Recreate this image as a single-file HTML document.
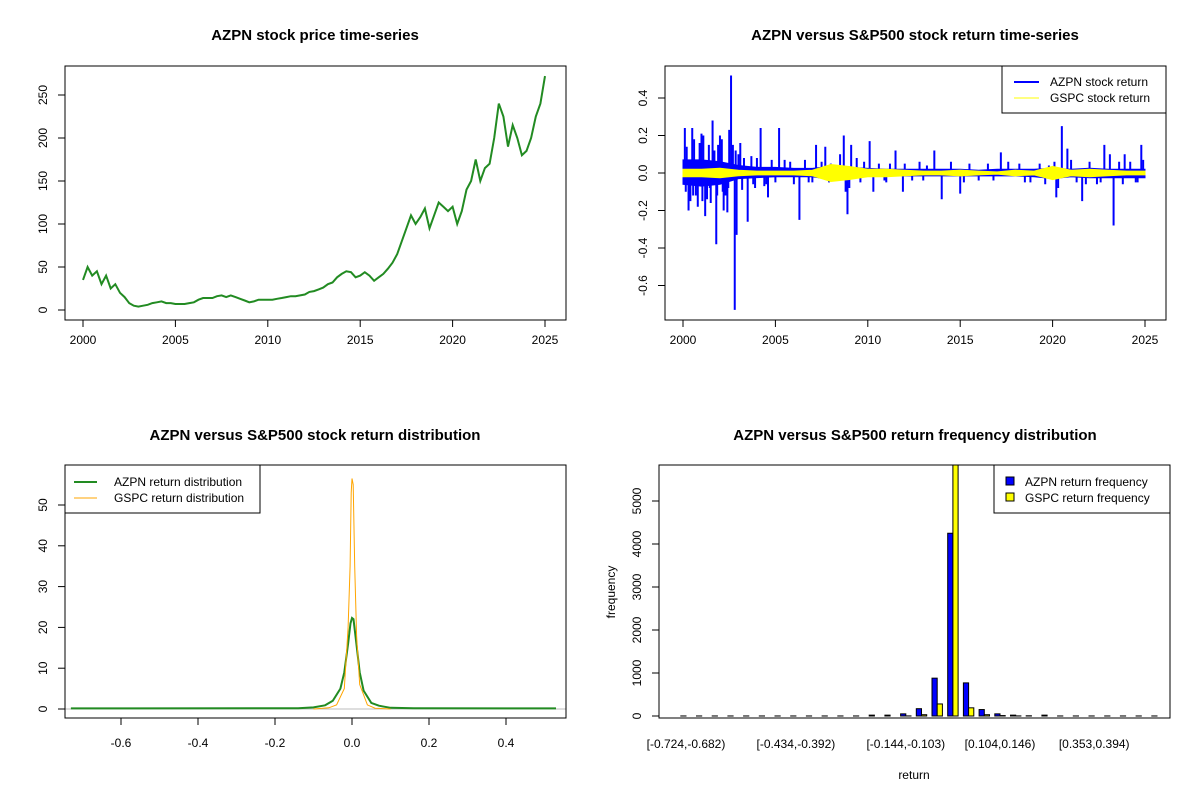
<!DOCTYPE html>
<html><head><meta charset="utf-8"><style>
html,body{margin:0;padding:0;background:#fff;}
svg text{font-family:"Liberation Sans",Arial,sans-serif;}
</style></head><body>
<svg id="c" width="1200" height="800" xmlns="http://www.w3.org/2000/svg"></svg>
<script>
// ---------- data ----------
const priceYears0 = 2000;
const priceQuarterly = [35,50,40,45, 30,40,25,30, 20,15,8,5, 4,5,6,8, 9,10,8,8, 7,7,7,8, 9,12,14,14, 14,16,17,15, 17,15,13,11, 9,10,12,12, 12,12,13,14, 15,16,16,17, 18,21,22,24, 26,30,32,38, 42,45,44,38, 40,44,40,34, 38,42,48,55, 65,80,95,110, 100,108,118,95, 110,125,120,115, 120,100,115,140, 150,175,150,165, 170,200,240,225, 190,215,200,180, 185,200,225,240, 272];
const priceYTicks = [0,50,100,150,200,250];
const yearTicks = [2000,2005,2010,2015,2020,2025];
const retYears = [2000,2001,2002,2003,2004,2005,2006,2007,2008,2009,2010,2011,2012,2013,2014,2015,2016,2017,2018,2019,2020,2021,2022,2023,2024,2025];
const azpnCoreHi = [0.07,0.07,0.06,0.04,0.03,0.03,0.025,0.025,0.035,0.03,0.025,0.02,0.02,0.02,0.02,0.02,0.015,0.02,0.02,0.02,0.025,0.02,0.025,0.02,0.02,0.02];
const azpnCoreLo = [-0.06,-0.07,-0.06,-0.03,-0.025,-0.02,-0.02,-0.02,-0.035,-0.03,-0.015,-0.015,-0.015,-0.015,-0.015,-0.015,-0.015,-0.015,-0.015,-0.02,-0.03,-0.02,-0.025,-0.025,-0.025,-0.025];
const gspcCore = [0.02,0.02,0.025,0.015,0.01,0.01,0.01,0.015,0.045,0.035,0.02,0.02,0.015,0.01,0.01,0.015,0.01,0.006,0.015,0.01,0.035,0.015,0.02,0.015,0.01,0.01];
const spikeYears = [2000.1,2000.3,2000.5,2000.8,2001.0,2001.2,2001.4,2001.6,2001.8,2002.0,2002.2,2002.4,2002.5,2002.6,2002.8,2002.9,2003.1,2003.5,2004.2,2004.6,2005.2,2006.3,2007.2,2007.7,2008.7,2008.9,2009.1,2010.1,2010.3,2011.5,2011.9,2013.6,2014.0,2015.0,2017.2,2020.2,2020.5,2020.8,2021.6,2022.8,2023.1,2023.3,2023.9,2024.8,
 2000.2,2000.4,2000.6,2000.7,2000.9,2001.1,2001.3,2001.5,2001.7,2001.9,2002.1,2002.3,2002.7,2003.0,2003.3,2003.7,2003.9,2004.0,2004.4,2004.8,2005.5,2005.8,2006.0,2006.6,2007.0,2007.5,2008.0,2008.5,2008.8,2009.4,2009.8,2010.6,2010.9,2011.2,2012.0,2012.4,2012.8,2013.2,2014.5,2015.5,2016.0,2016.5,2017.6,2018.2,2018.8,2019.3,2019.8,2020.1,2020.3,2021.0,2021.3,2022.0,2022.4,2023.6,2024.2,2024.5,2024.9,
 2000.15,2000.55,2001.05,2001.45,2001.85,2002.15,2002.45,2002.85,2003.2,2003.8,2004.5,2005.0,2006.8,2007.9,2009.0,2009.6,2011.0,2013.0,2015.2,2016.8,2018.5,2019.6,2021.8,2022.6,2023.8,2024.6];
const spikeValues = [0.24,-0.20,0.24,-0.18,0.21,-0.23,0.15,0.28,-0.38,0.20,-0.20,-0.21,0.23,0.52,-0.73,-0.33,0.16,-0.26,0.24,-0.13,0.24,-0.25,0.15,0.14,0.20,-0.22,0.15,0.17,-0.10,0.12,-0.10,0.12,-0.14,-0.11,0.11,-0.13,0.25,0.13,-0.15,0.15,0.10,-0.28,0.10,0.15,
 0.14,-0.15,0.18,-0.12,0.16,0.20,-0.14,-0.16,0.12,0.15,0.18,-0.12,0.15,0.10,0.08,0.09,-0.08,0.08,-0.07,0.07,0.07,0.06,-0.06,0.07,-0.05,0.06,0.05,0.10,-0.10,0.08,0.06,0.05,-0.04,0.05,0.05,-0.04,0.06,0.04,0.06,0.05,-0.04,0.05,0.06,0.05,-0.05,0.05,0.04,0.06,-0.08,0.07,-0.05,0.06,-0.06,0.06,0.06,-0.05,0.07,
 -0.10,-0.12,-0.15,-0.08,-0.12,-0.10,-0.08,0.12,-0.09,-0.06,-0.06,-0.05,-0.05,-0.05,-0.08,-0.05,-0.05,-0.04,-0.05,-0.04,-0.05,-0.06,-0.06,-0.05,-0.06,-0.05];
const densX = [-0.73,-0.14,-0.10,-0.07,-0.05,-0.03,-0.02,-0.01,-0.004,0,0.004,0.01,0.02,0.03,0.05,0.07,0.10,0.16,0.53];
const azpnDens = [0.15,0.2,0.4,0.9,2,5,9,16,21,22.3,22,17,9,4.5,1.5,0.8,0.3,0.2,0.15];
const gspcX = [-0.10,-0.06,-0.04,-0.02,-0.01,-0.005,-0.002,0,0.003,0.007,0.012,0.02,0.04,0.06,0.10];
const gspcDens = [0,0.3,1,5,20,35,53,56.5,55,35,18,6,1,0.2,0];
const densXTicks = [-0.6,-0.4,-0.2,0,0.2,0.4];
const densYTicks = [0,10,20,30,40,50];
const binLabels = ["[-0.724,-0.682)","[-0.434,-0.392)","[-0.144,-0.103)","[0.104,0.146)","[0.353,0.394)"];
const binLabelIdx = [0,7,14,20,26];
const azpnFreq = [1,1,1,1,1,1,1,1,1,1,1,1,20,20,50,170,880,4250,770,150,50,20,5,20,1,1,1,1,1,1,1];
const gspcFreq = [0,0,0,0,0,0,0,0,0,0,0,0,0,0,2,30,280,6000,190,30,10,2,0,0,0,0,0,0,0,0,0];
const freqYTicks = [0,1000,2000,3000,4000,5000];

// ---------- helpers ----------
const svg = document.getElementById('c');
const NS = 'http://www.w3.org/2000/svg';
function mk(tag, attrs, parent){const e=document.createElementNS(NS,tag);for(const k in attrs)e.setAttribute(k,attrs[k]);(parent||svg).appendChild(e);return e;}
function txt(s,x,y,opts,parent){const e=mk('text',Object.assign({x:x,y:y,'font-size':12,'text-anchor':'middle',fill:'#000'},opts||{}),parent);e.textContent=s;return e;}
function lin(d0,d1,r0,r1){return v=>r0+(v-d0)*(r1-r0)/(d1-d0);}

// ---------- Panel 1: price ----------
{
const g=mk('g',{});


const X=lin(2000,2025,83,545), Y=lin(0,250,310,95);
const t=txt('AZPN stock price time-series',315,40,{'font-size':15,'font-weight':'bold'},g);


let d='';priceQuarterly.forEach((v,i)=>{d+=(i?'L':'M')+X(priceYears0+i/4).toFixed(1)+' '+Y(v).toFixed(1);});
const p=mk('path',{d:d,fill:'none',stroke:'#228B22','stroke-width':2},g);


mk('rect',{x:65,y:66,width:501,height:254,fill:'none',stroke:'#000'},g);
mk('line',{x1:X(2000),x2:X(2025),y1:320,y2:320,stroke:'#000'},g);
yearTicks.forEach(v=>{mk('line',{x1:X(v),x2:X(v),y1:320,y2:327,stroke:'#000'},g);const l=txt(String(v),X(v),344,{},g);});
priceYTicks.forEach(v=>{mk('line',{x1:58,x2:65,y1:Y(v),y2:Y(v),stroke:'#000'},g);const l=txt(String(v),0,0,{transform:`translate(47,${Y(v)}) rotate(-90)`},g);});
}

// ---------- Panel 2: returns ----------
{
const g=mk('g',{});


const X=lin(2000,2025,683,1145), Y=lin(0,0.4,173,98);
const t=txt('AZPN versus S&P500 stock return time-series',915,40,{'font-size':15,'font-weight':'bold'},g);


const xs=retYears.map(v=>X(Math.min(v,2025)));
let d='M'+xs.map((x,i)=>x+' '+Y(azpnCoreHi[i])).join('L');
d+='L'+xs.map((x,i)=>x+' '+Y(azpnCoreLo[i])).reverse().join('L')+'Z';
const a=mk('path',{d:d,fill:'#0000FF',stroke:'#0000FF','stroke-width':1},g);


spikeYears.forEach((yr,i)=>{const s=mk('line',{x1:X(yr),x2:X(yr),y1:Y(0),y2:Y(spikeValues[i]),stroke:'#0000FF','stroke-width':2},g);

});
let d2='M'+xs.map((x,i)=>x+' '+Y(gspcCore[i])).join('L');
d2+='L'+xs.map((x,i)=>x+' '+Y(-gspcCore[i])).reverse().join('L')+'Z';
const b=mk('path',{d:d2,fill:'#FFFF00',stroke:'#FFFF00','stroke-width':1},g);


mk('rect',{x:665,y:66,width:501,height:254,fill:'none',stroke:'#000'},g);
mk('line',{x1:X(2000),x2:X(2025),y1:320,y2:320,stroke:'#000'},g);
yearTicks.forEach(v=>{mk('line',{x1:X(v),x2:X(v),y1:320,y2:327,stroke:'#000'},g);const l=txt(String(v),X(v),344,{},g);});
[-0.6,-0.4,-0.2,0,0.2,0.4].forEach(v=>{mk('line',{x1:658,x2:665,y1:Y(v),y2:Y(v),stroke:'#000'},g);const l=txt(v===0?'0.0':String(v),0,0,{transform:`translate(647,${Y(v)}) rotate(-90)`},g);});
const lg=mk('g',{},g);


mk('rect',{x:1002,y:66,width:164,height:47,fill:'#fff',stroke:'#000'},lg);
mk('line',{x1:1014,x2:1039,y1:82,y2:82,stroke:'#0000FF','stroke-width':2},lg);
mk('line',{x1:1014,x2:1039,y1:98,y2:98,stroke:'#FFFF00','stroke-width':1},lg);
txt('AZPN stock return',1050,86,{'text-anchor':'start'},lg);
txt('GSPC stock return',1050,102,{'text-anchor':'start'},lg);
}

// ---------- Panel 3: density ----------
{
const g=mk('g',{});


const X=lin(0,0.4,352,506), Y=lin(0,50,709,505);
const t=txt('AZPN versus S&P500 stock return distribution',315,440,{'font-size':15,'font-weight':'bold'},g);


mk('line',{x1:65,x2:566,y1:Y(0),y2:Y(0),stroke:'#BEBEBE'},g);
const d=densX.map((x,i)=>(i?'L':'M')+X(x).toFixed(1)+' '+Y(azpnDens[i]).toFixed(1)).join('');
const p=mk('path',{d:d,fill:'none',stroke:'#228B22','stroke-width':2},g);


const d2=gspcX.map((x,i)=>(i?'L':'M')+X(x).toFixed(1)+' '+Y(gspcDens[i]).toFixed(1)).join('');
const q=mk('path',{d:d2,fill:'none',stroke:'#FFA500','stroke-width':1},g);


mk('rect',{x:65,y:465,width:501,height:253,fill:'none',stroke:'#000'},g);
mk('line',{x1:X(-0.6),x2:X(0.4),y1:718,y2:718,stroke:'#000'},g);
densXTicks.forEach(v=>{mk('line',{x1:X(v),x2:X(v),y1:718,y2:725,stroke:'#000'},g);const l=txt(v===0?'0.0':String(v),X(v),747,{},g);});
densYTicks.forEach(v=>{mk('line',{x1:58,x2:65,y1:Y(v),y2:Y(v),stroke:'#000'},g);const l=txt(String(v),0,0,{transform:`translate(47,${Y(v)}) rotate(-90)`},g);});
const lg=mk('g',{},g);


mk('rect',{x:65,y:465,width:195,height:48,fill:'#fff',stroke:'#000'},lg);
mk('line',{x1:74,x2:97,y1:482,y2:482,stroke:'#228B22','stroke-width':2},lg);
mk('line',{x1:74,x2:97,y1:498,y2:498,stroke:'#FFA500','stroke-width':1},lg);
txt('AZPN return distribution',114,486,{'text-anchor':'start'},lg);
txt('GSPC return distribution',114,502,{'text-anchor':'start'},lg);
}

// ---------- Panel 4: histogram ----------
{
const g=mk('g',{});


const Y=lin(0,5000,716,501), pitch=15.7, x0=686, bw=5.2;
const GX=i=>x0+i*pitch;
const t=txt('AZPN versus S&P500 return frequency distribution',915,440,{'font-size':15,'font-weight':'bold'},g);


const clip=mk('clipPath',{id:'hc'},g);mk('rect',{x:659,y:465,width:511,height:253},clip);
const bars=mk('g',{'clip-path':'url(#hc)'},g);
azpnFreq.forEach((v,i)=>{const h=Y(0)-Y(v);const r=mk('rect',{x:GX(i)-bw,y:Y(v),width:bw,height:Math.max(h,0),fill:'#0000FF',stroke:'#000','stroke-width':1},bars);

});
gspcFreq.forEach((v,i)=>{const h=Y(0)-Y(v);const r=mk('rect',{x:GX(i),y:Y(v),width:bw,height:Math.max(h,0),fill:'#FFFF00',stroke:'#000','stroke-width':1},bars);

});
mk('rect',{x:659,y:465,width:511,height:253,fill:'none',stroke:'#000'},g);
freqYTicks.forEach(v=>{mk('line',{x1:652,x2:659,y1:Y(v),y2:Y(v),stroke:'#000'},g);const l=txt(String(v),0,0,{transform:`translate(641,${Y(v)}) rotate(-90)`},g);});
binLabelIdx.forEach((idx,k)=>{const l=txt(binLabels[k],GX(idx),748,{},g);});
const xt=txt('return',914,779,{},g);


const yt=txt('frequency',0,0,{transform:'translate(615,592) rotate(-90)'},g);


const lg=mk('g',{},g);


mk('rect',{x:994,y:465,width:176,height:48,fill:'#fff',stroke:'#000'},lg);
mk('rect',{x:1006,y:477,width:8,height:8,fill:'#0000FF',stroke:'#000'},lg);
mk('rect',{x:1006,y:493,width:8,height:8,fill:'#FFFF00',stroke:'#000'},lg);
txt('AZPN return frequency',1025,486,{'text-anchor':'start'},lg);
txt('GSPC return frequency',1025,502,{'text-anchor':'start'},lg);
}
</script>
</body></html>
